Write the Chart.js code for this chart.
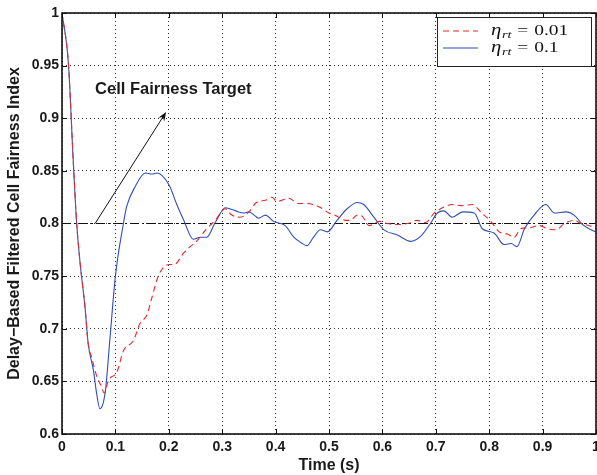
<!DOCTYPE html>
<html>
<head>
<meta charset="utf-8">
<script src="https://cdn.jsdelivr.net/npm/chart.js@4/dist/chart.umd.min.js"></script>
<style>
  html, body { margin: 0; padding: 0; background: #fff; }
</style>
</head>
<body>
<canvas id="fairnessChart" width="597" height="475"></canvas>
<script>
// Values
const fastTime = [0, 0.012, 0.021, 0.0275, 0.034, 0.043, 0.049, 0.059, 0.065, 0.071, 0.081, 0.09, 0.1, 0.115,
  0.121, 0.137, 0.156, 0.168, 0.178, 0.2, 0.215, 0.228, 0.246, 0.259, 0.271, 0.287, 0.306, 0.325, 0.34,
  0.35, 0.362, 0.368, 0.381, 0.396, 0.418, 0.434, 0.447, 0.459, 0.471, 0.484, 0.497, 0.515, 0.534, 0.553,
  0.565, 0.584, 0.603, 0.628, 0.653, 0.672, 0.69, 0.703, 0.715, 0.731, 0.75, 0.772, 0.787, 0.809, 0.828,
  0.841, 0.852, 0.866, 0.884, 0.906, 0.922, 0.944, 0.959, 0.975, 0.991, 1.0];
const fastValue = [1, 0.952, 0.86, 0.8, 0.762, 0.721, 0.686, 0.66, 0.638, 0.624, 0.64, 0.692, 0.75, 0.8,
  0.816, 0.835, 0.848, 0.847, 0.848, 0.837, 0.818, 0.803, 0.785, 0.787, 0.787, 0.801, 0.815, 0.812, 0.81,
  0.811, 0.807, 0.805, 0.808, 0.802, 0.798, 0.787, 0.782, 0.779, 0.787, 0.794, 0.792, 0.803, 0.814, 0.82,
  0.818, 0.806, 0.794, 0.789, 0.783, 0.788, 0.8, 0.81, 0.812, 0.806, 0.811, 0.81, 0.795, 0.791, 0.78,
  0.781, 0.778, 0.795, 0.808, 0.818, 0.81, 0.811, 0.808, 0.799, 0.794, 0.792];

const slowTime = [0, 0.012, 0.021, 0.0275, 0.034, 0.043, 0.049, 0.056, 0.065, 0.074, 0.079, 0.087, 0.103,
  0.115, 0.134, 0.146, 0.159, 0.168, 0.181, 0.201, 0.21, 0.228, 0.24, 0.25, 0.271, 0.287, 0.306, 0.318,
  0.334, 0.35, 0.362, 0.368, 0.381, 0.393, 0.403, 0.425, 0.443, 0.459, 0.481, 0.5, 0.515, 0.531, 0.54,
  0.553, 0.562, 0.575, 0.594, 0.609, 0.628, 0.647, 0.665, 0.681, 0.697, 0.709, 0.722, 0.731, 0.747,
  0.769, 0.784, 0.803, 0.819, 0.834, 0.847, 0.859, 0.875, 0.894, 0.909, 0.925, 0.941, 0.959, 0.972,
  0.987, 1.0];
const slowValue = [1, 0.952, 0.86, 0.8, 0.762, 0.721, 0.686, 0.672, 0.655, 0.645, 0.639, 0.651, 0.659,
  0.679, 0.689, 0.705, 0.713, 0.729, 0.751, 0.761, 0.761, 0.772, 0.778, 0.782, 0.795, 0.803, 0.814, 0.808,
  0.806, 0.811, 0.819, 0.821, 0.822, 0.825, 0.821, 0.824, 0.819, 0.819, 0.816, 0.81, 0.807, 0.803, 0.803,
  0.808, 0.807, 0.798, 0.802, 0.8, 0.799, 0.8, 0.803, 0.801, 0.81, 0.814, 0.817, 0.818, 0.817, 0.818,
  0.811, 0.802, 0.792, 0.79, 0.787, 0.795, 0.796, 0.798, 0.795, 0.794, 0.8, 0.803, 0.8, 0.798, 0.795];

const targetTime = [0, 1];
const targetValue = [0.8, 0.8];

const seriesRates = ['0.01', '0.1'];

const xTickValues = [0, 0.1, 0.2, 0.3, 0.4, 0.5, 0.6, 0.7, 0.8, 0.9, 1];
const xTickLabels = ['0', '0.1', '0.2', '0.3', '0.4', '0.5', '0.6', '0.7', '0.8', '0.9', '1'];
const yTickValues = [0.6, 0.65, 0.7, 0.75, 0.8, 0.85, 0.9, 0.95, 1];
const yTickLabels = ['0.6', '0.65', '0.7', '0.75', '0.8', '0.85', '0.9', '0.95', '1'];

const SANS = '"Liberation Sans", Arial, sans-serif';
const SERIF = '"Liberation Serif", "Times New Roman", serif';

function toPoints(xs, ys) {
  return xs.map((x, i) => ({ x: x, y: ys[i] }));
}

// Box, inward ticks, arrow annotation and legend (MATLAB look)
const matlabFrame = {
  id: 'matlabFrame',
  afterDraw(chart) {
    const { ctx, chartArea: a, scales: { x, y } } = chart;
    ctx.save();

    ctx.strokeStyle = '#111';
    ctx.lineWidth = 1;
    ctx.beginPath();
    xTickValues.forEach(v => {
      const px = Math.round(x.getPixelForValue(v)) + 0.5;
      ctx.moveTo(px, a.bottom); ctx.lineTo(px, a.bottom - 5);
      ctx.moveTo(px, a.top); ctx.lineTo(px, a.top + 5);
    });
    yTickValues.forEach(v => {
      const py = Math.round(y.getPixelForValue(v)) + 0.5;
      ctx.moveTo(a.left, py); ctx.lineTo(a.left + 5, py);
      ctx.moveTo(a.right, py); ctx.lineTo(a.right - 5, py);
    });
    ctx.stroke();

    ctx.lineWidth = 1.6;
    ctx.strokeRect(a.left, a.top, a.right - a.left, a.bottom - a.top);

    // arrow towards the annotation text
    const x1 = x.getPixelForValue(0.062), y1 = y.getPixelForValue(0.8);
    const x2 = x.getPixelForValue(0.195), y2 = y.getPixelForValue(0.906);
    const ang = Math.atan2(y2 - y1, x2 - x1);
    const c = Math.cos(ang), s = Math.sin(ang);
    ctx.lineWidth = 1;
    ctx.strokeStyle = '#111';
    ctx.beginPath();
    ctx.moveTo(x1, y1);
    ctx.lineTo(x2 - 6 * c, y2 - 6 * s);
    ctx.stroke();
    ctx.fillStyle = '#111';
    ctx.beginPath();
    ctx.moveTo(x2, y2);
    ctx.lineTo(x2 - 9 * c + 3.5 * s, y2 - 9 * s - 3.5 * c);
    ctx.lineTo(x2 - 6 * c, y2 - 6 * s);
    ctx.lineTo(x2 - 9 * c - 3.5 * s, y2 - 9 * s + 3.5 * c);
    ctx.closePath();
    ctx.fill();

    ctx.font = 'bold 16.5px ' + SANS;
    ctx.fillStyle = '#1a1a1a';
    ctx.textBaseline = 'middle';
    ctx.textAlign = 'left';
    ctx.fillText('Cell Fairness Target', x.getPixelForValue(0.062), y.getPixelForValue(0.927));

    // legend box
    const lw = 154, lh = 49;
    const lx = a.right - lw - 5, ly = a.top + 4;
    ctx.fillStyle = '#fff';
    ctx.fillRect(lx, ly, lw, lh);
    ctx.lineWidth = 1;
    ctx.strokeStyle = '#222';
    ctx.strokeRect(lx + 0.5, ly + 0.5, lw, lh);

    chart.data.datasets.slice(0, 2).forEach((ds, i) => {
      const rowY = ly + 14 + i * 17;
      ctx.save();
      ctx.strokeStyle = ds.borderColor;
      ctx.lineWidth = ds.borderWidth;
      ctx.setLineDash(ds.borderDash || []);
      ctx.beginPath();
      ctx.moveTo(lx + 6, rowY);
      ctx.lineTo(lx + 41, rowY);
      ctx.stroke();
      ctx.restore();

      // math-style label, widened like the original
      ctx.save();
      ctx.translate(lx + 54, rowY);
      ctx.scale(1.3, 1);
      let tx = 0;
      ctx.fillStyle = '#111';
      ctx.textBaseline = 'alphabetic';
      ctx.font = 'italic 16px ' + SERIF;
      ctx.fillText('\u03b7', tx, 4);
      tx += ctx.measureText('\u03b7').width + 0.5;
      ctx.font = 'italic 11px ' + SERIF;
      ctx.fillText('rt', tx, 7);
      tx += ctx.measureText('rt').width + 4.5;
      ctx.font = '15px ' + SERIF;
      ctx.fillText('=', tx, 4);
      tx += ctx.measureText('=').width + 4.5;
      ctx.fillText(seriesRates[i], tx, 4);
      ctx.restore();
    });

    ctx.restore();
  }
};

new Chart(document.getElementById('fairnessChart'), {
  type: 'line',
  data: {
    datasets: [
      {
        label: '\u03b7rt = ' + seriesRates[0],
        data: toPoints(slowTime, slowValue),
        borderColor: '#e52b2b',
        borderWidth: 1.1,
        borderDash: [6, 4],
        pointRadius: 0,
        cubicInterpolationMode: 'monotone'
      },
      {
        label: '\u03b7rt = ' + seriesRates[1],
        data: toPoints(fastTime, fastValue),
        borderColor: '#2f4db5',
        borderWidth: 1.1,
        pointRadius: 0,
        cubicInterpolationMode: 'monotone'
      },
      {
        label: 'target',
        data: toPoints(targetTime, targetValue),
        borderColor: '#111',
        borderWidth: 1.2,
        borderDash: [9, 3, 2, 3],
        pointRadius: 0,
        tension: 0
      }
    ]
  },
  options: {
    responsive: false,
    animation: false,
    devicePixelRatio: 1,
    layout: { padding: { top: 13, right: 1, left: 0, bottom: 0 } },
    plugins: {
      legend: { display: false },
      tooltip: { enabled: false }
    },
    scales: {
      x: {
        type: 'linear',
        min: 0,
        max: 1,
        afterBuildTicks: scale => { scale.ticks = xTickValues.map(v => ({ value: v })); },
        afterFit: scale => {
          scale.height = 41;
          scale.paddingLeft = 0;
          scale.paddingRight = 0;
        },
        ticks: {
          callback: (v, i) => xTickLabels[i],
          color: '#1a1a1a',
          padding: 5,
          maxRotation: 0,
          autoSkip: false,
          font: { family: SANS, size: 14, weight: 'bold' }
        },
        grid: { color: 'rgba(0,0,0,0.8)', lineWidth: 1, drawTicks: false },
        border: { display: false, dash: [1, 3] },
        title: {
          display: true,
          text: 'Time (s)',
          color: '#1a1a1a',
          padding: { top: 0, bottom: 0 },
          font: { family: SANS, size: 16, weight: 'bold' }
        }
      },
      y: {
        type: 'linear',
        min: 0.6,
        max: 1,
        afterBuildTicks: scale => { scale.ticks = yTickValues.map(v => ({ value: v })); },
        afterFit: scale => {
          scale.width = 62;
          scale.paddingTop = 0;
          scale.paddingBottom = 0;
        },
        ticks: {
          callback: (v, i) => yTickLabels[i],
          color: '#1a1a1a',
          padding: 3,
          autoSkip: false,
          font: { family: SANS, size: 14, weight: 'bold' }
        },
        grid: { color: 'rgba(0,0,0,0.8)', lineWidth: 1, drawTicks: false },
        border: { display: false, dash: [1, 3] },
        title: {
          display: true,
          text: 'Delay\u2212Based Filtered Cell Fairness Index',
          color: '#1a1a1a',
          padding: { top: 5, bottom: 0 },
          font: { family: SANS, size: 16, weight: 'bold' }
        }
      }
    }
  },
  plugins: [matlabFrame]
});
</script>
</body>
</html>
